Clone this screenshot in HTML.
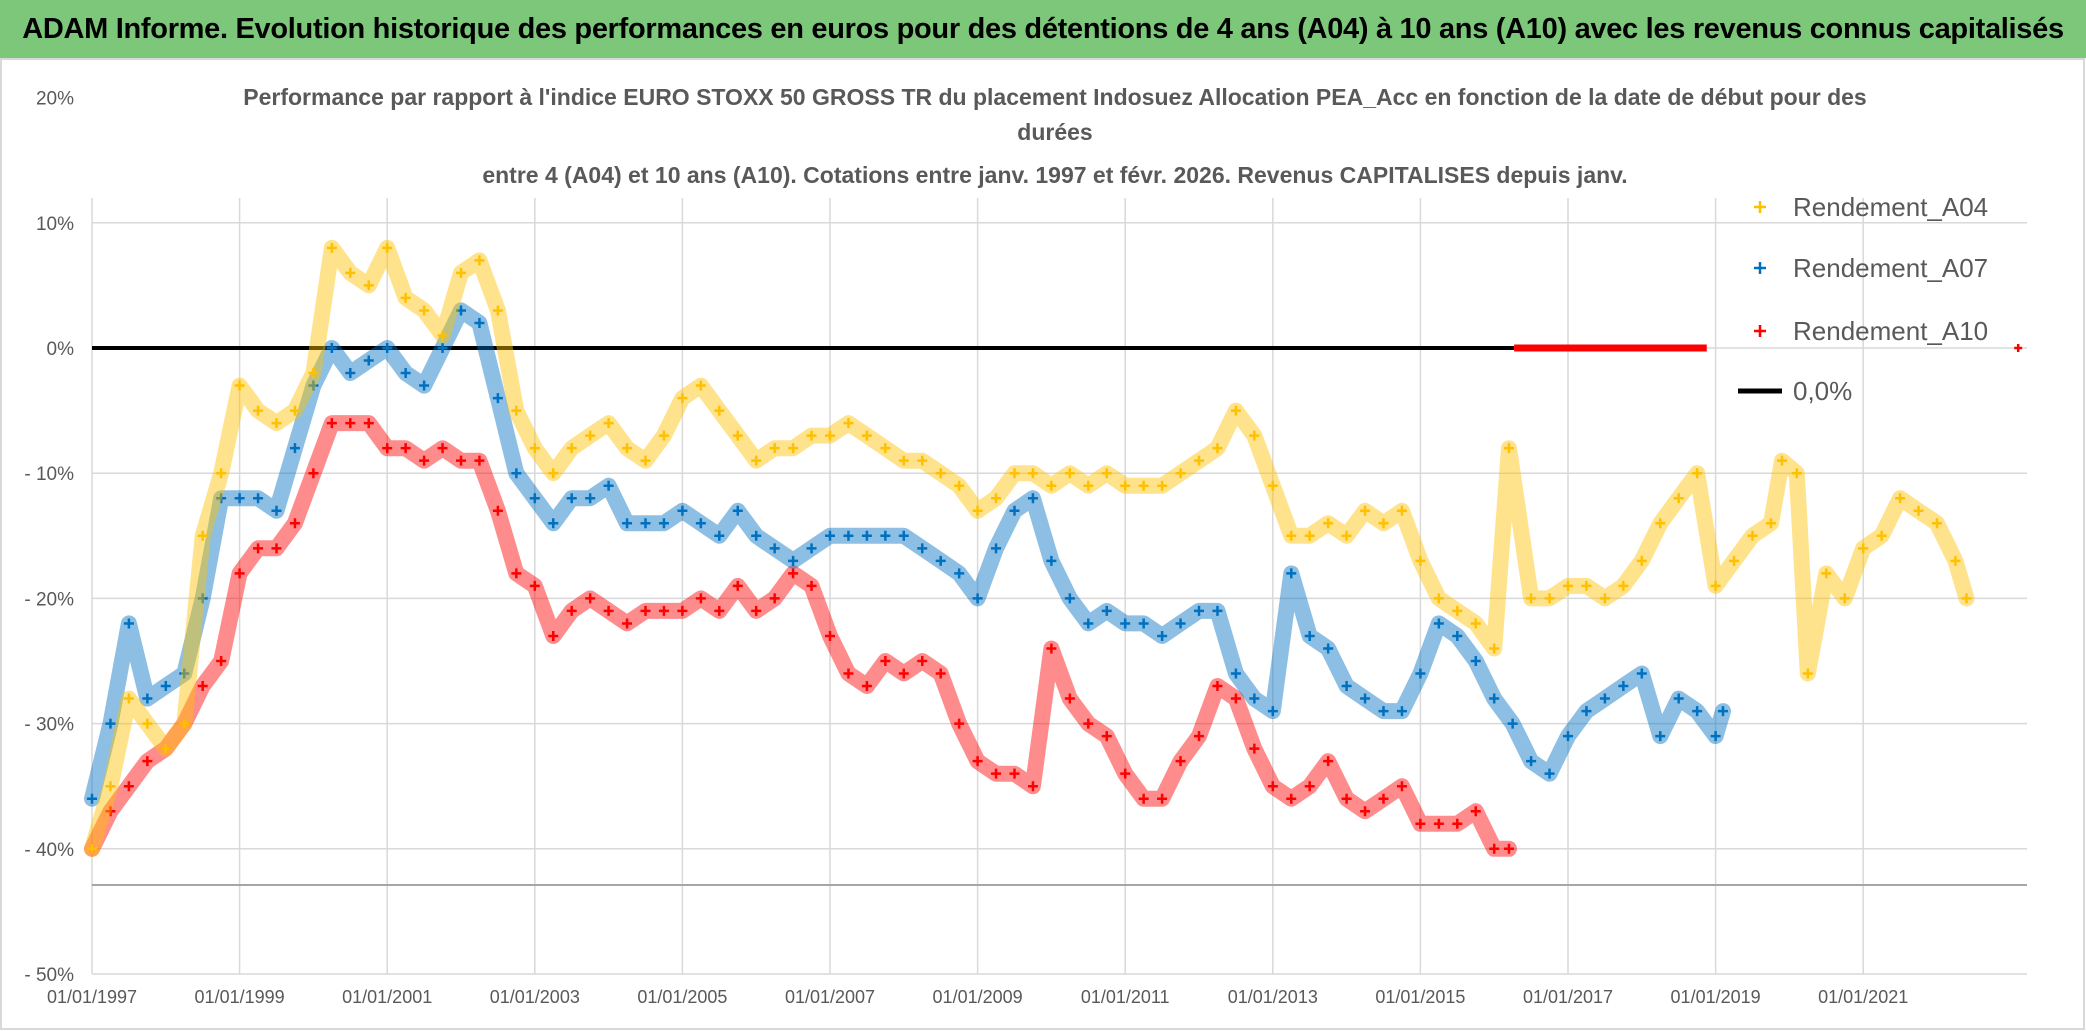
<!DOCTYPE html>
<html><head><meta charset="utf-8">
<style>
body{margin:0;background:#fff;width:2086px;height:1031px;overflow:hidden;font-family:"Liberation Sans",sans-serif}
#title{position:absolute;left:0;top:0;width:2086px;height:58px;background:#7dc77a;color:#000;font-weight:bold;font-size:29px;line-height:58px;text-align:center;letter-spacing:-0.3px}
svg{position:absolute;left:0;top:0}
</style></head><body>
<div id="title">ADAM Informe. Evolution historique des performances en euros pour des détentions de 4 ans (A04) à 10 ans (A10) avec les revenus connus capitalisés</div>
<svg id="chart" width="2086" height="1031"></svg>
<script>
const yTicks=[20,10,0,-10,-20,-30,-40,-50];
const yTickLabels=["20%","10%","0%","- 10%","- 20%","- 30%","- 40%","- 50%"];
const xTickYears=[1997,1999,2001,2003,2005,2007,2009,2011,2013,2015,2017,2019,2021];
const xTickLabels=["01/01/1997","01/01/1999","01/01/2001","01/01/2003","01/01/2005","01/01/2007","01/01/2009","01/01/2011","01/01/2013","01/01/2015","01/01/2017","01/01/2019","01/01/2021"];
const datesA04=[1997,1997.25,1997.5,1997.75,1998,1998.25,1998.5,1998.75,1999,1999.25,1999.5,1999.75,2000,2000.25,2000.5,2000.75,2001,2001.25,2001.5,2001.75,2002,2002.25,2002.5,2002.75,2003,2003.25,2003.5,2003.75,2004,2004.25,2004.5,2004.75,2005,2005.25,2005.5,2005.75,2006,2006.25,2006.5,2006.75,2007,2007.25,2007.5,2007.75,2008,2008.25,2008.5,2008.75,2009,2009.25,2009.5,2009.75,2010,2010.25,2010.5,2010.75,2011,2011.25,2011.5,2011.75,2012,2012.25,2012.5,2012.75,2013,2013.25,2013.5,2013.75,2014,2014.25,2014.5,2014.75,2015,2015.25,2015.5,2015.75,2016,2016.2,2016.5,2016.75,2017,2017.25,2017.5,2017.75,2018,2018.25,2018.5,2018.75,2019,2019.25,2019.5,2019.75,2019.9,2020.1,2020.25,2020.5,2020.75,2021,2021.25,2021.5,2021.75,2022,2022.25,2022.4];
const valuesA04=[-40,-35,-28,-30,-32,-30,-15,-10,-3,-5,-6,-5,-2,8,6,5,8,4,3,1,6,7,3,-5,-8,-10,-8,-7,-6,-8,-9,-7,-4,-3,-5,-7,-9,-8,-8,-7,-7,-6,-7,-8,-9,-9,-10,-11,-13,-12,-10,-10,-11,-10,-11,-10,-11,-11,-11,-10,-9,-8,-5,-7,-11,-15,-15,-14,-15,-13,-14,-13,-17,-20,-21,-22,-24,-8,-20,-20,-19,-19,-20,-19,-17,-14,-12,-10,-19,-17,-15,-14,-9,-10,-26,-18,-20,-16,-15,-12,-13,-14,-17,-20];
const datesA07=[1997,1997.25,1997.5,1997.75,1998,1998.25,1998.5,1998.75,1999,1999.25,1999.5,1999.75,2000,2000.25,2000.5,2000.75,2001,2001.25,2001.5,2001.75,2002,2002.25,2002.5,2002.75,2003,2003.25,2003.5,2003.75,2004,2004.25,2004.5,2004.75,2005,2005.25,2005.5,2005.75,2006,2006.25,2006.5,2006.75,2007,2007.25,2007.5,2007.75,2008,2008.25,2008.5,2008.75,2009,2009.25,2009.5,2009.75,2010,2010.25,2010.5,2010.75,2011,2011.25,2011.5,2011.75,2012,2012.25,2012.5,2012.75,2013,2013.25,2013.5,2013.75,2014,2014.25,2014.5,2014.75,2015,2015.25,2015.5,2015.75,2016,2016.25,2016.5,2016.75,2017,2017.25,2017.5,2017.75,2018,2018.25,2018.5,2018.75,2019,2019.1];
const valuesA07=[-36,-30,-22,-28,-27,-26,-20,-12,-12,-12,-13,-8,-3,0,-2,-1,0,-2,-3,0,3,2,-4,-10,-12,-14,-12,-12,-11,-14,-14,-14,-13,-14,-15,-13,-15,-16,-17,-16,-15,-15,-15,-15,-15,-16,-17,-18,-20,-16,-13,-12,-17,-20,-22,-21,-22,-22,-23,-22,-21,-21,-26,-28,-29,-18,-23,-24,-27,-28,-29,-29,-26,-22,-23,-25,-28,-30,-33,-34,-31,-29,-28,-27,-26,-31,-28,-29,-31,-29];
const datesA10=[1997,1997.25,1997.5,1997.75,1998,1998.25,1998.5,1998.75,1999,1999.25,1999.5,1999.75,2000,2000.25,2000.5,2000.75,2001,2001.25,2001.5,2001.75,2002,2002.25,2002.5,2002.75,2003,2003.25,2003.5,2003.75,2004,2004.25,2004.5,2004.75,2005,2005.25,2005.5,2005.75,2006,2006.25,2006.5,2006.75,2007,2007.25,2007.5,2007.75,2008,2008.25,2008.5,2008.75,2009,2009.25,2009.5,2009.75,2010,2010.25,2010.5,2010.75,2011,2011.25,2011.5,2011.75,2012,2012.25,2012.5,2012.75,2013,2013.25,2013.5,2013.75,2014,2014.25,2014.5,2014.75,2015,2015.25,2015.5,2015.75,2016,2016.2];
const valuesA10=[-40,-37,-35,-33,-32,-30,-27,-25,-18,-16,-16,-14,-10,-6,-6,-6,-8,-8,-9,-8,-9,-9,-13,-18,-19,-23,-21,-20,-21,-22,-21,-21,-21,-20,-21,-19,-21,-20,-18,-19,-23,-26,-27,-25,-26,-25,-26,-30,-33,-34,-34,-35,-24,-28,-30,-31,-34,-36,-36,-33,-31,-27,-28,-32,-35,-36,-35,-33,-36,-37,-36,-35,-38,-38,-38,-37,-40,-40];
const zeroA10Range=[2016.27,2018.88];
const lastA10Date=[2023.1];
const lastA10Value=[0];

const NS="http://www.w3.org/2000/svg";
const svg=document.getElementById('chart');
const X0=92, XPY=73.8, Y0=348, YPP=12.52;
const xs=t=>X0+(t-1997)*XPY;
const ys=v=>Y0-v*YPP;
function mk(tag,attrs,parent){const e=document.createElementNS(NS,tag);for(const k in attrs)e.setAttribute(k,attrs[k]);(parent||svg).appendChild(e);return e;}

// grid
yTicks.forEach((v,i)=>{
if(v!==20){const l=mk('line',{x1:X0,x2:2027,y1:ys(v),y2:ys(v),stroke:'#d9d9d9','stroke-width':1.5});

}
const t=mk('text',{x:74,y:ys(v)+7,'text-anchor':'end','font-size':19,fill:'#595959'});t.textContent=yTickLabels[i];

});
xTickYears.forEach((yr,i)=>{const l=mk('line',{x1:xs(yr),x2:xs(yr),y1:198,y2:ys(-50),stroke:'#d9d9d9','stroke-width':1.5});


const t=mk('text',{x:xs(yr),y:1003,'text-anchor':'middle','font-size':18,fill:'#595959'});t.textContent=xTickLabels[i];

});
const bl=mk('line',{x1:X0,x2:2027,y1:885,y2:885,stroke:'#a6a6a6','stroke-width':2});


const frame=mk('rect',{x:1,y:59,width:2083,height:970,fill:'none',stroke:'#d9d9d9','stroke-width':2});



// subtitle
const st=[["Performance par rapport à l'indice EURO STOXX 50 GROSS TR  du placement Indosuez Allocation PEA_Acc en fonction de la date de début pour des",105],["durées",140],["entre 4 (A04) et 10 ans (A10). Cotations entre janv. 1997 et févr. 2026. Revenus CAPITALISES depuis janv.",183]];
st.forEach((s,i)=>{const t=mk('text',{x:1055,y:s[1],'text-anchor':'middle','font-size':23,'font-weight':'bold',fill:'#595959'});t.textContent=s[0];

});

// zero line
const zl=mk('line',{x1:X0,x2:xs(zeroA10Range[0]),y1:ys(0),y2:ys(0),stroke:'#000','stroke-width':4});



function series(dates,vals,color,name){
  const g=mk('g',{});
  
  
  const d=dates.map((t,i)=>(i?'L':'M')+xs(t).toFixed(1)+','+ys(vals[i]).toFixed(1)).join('');
  mk('path',{d:d,fill:'none',stroke:color,'stroke-width':16,'stroke-opacity':0.45,'stroke-linejoin':'round','stroke-linecap':'round'},g);
  dates.forEach((t,i)=>{const x=xs(t),y=ys(vals[i]);
    const p=mk('path',{d:`M${x-5},${y}h10M${x},${y-5}v10`,stroke:color,'stroke-width':2.5},g);
    
    });
}
series(datesA10,valuesA10,'#ff0000','series-a10');
series(datesA07,valuesA07,'#0070c0','series-a07');
series(datesA04,valuesA04,'#ffc000','series-a04');
const rz=mk('line',{x1:xs(zeroA10Range[0]),x2:xs(zeroA10Range[1]),y1:ys(0),y2:ys(0),stroke:'#ff0000','stroke-width':7});


const rd=mk('path',{d:`M${xs(lastA10Date[0])-4},${ys(lastA10Value[0])}h8M${xs(lastA10Date[0])},${ys(lastA10Value[0])-4}v8`,stroke:'#ff0000','stroke-width':2.5});



// legend
const leg=[["Rendement_A04",'#ffc000',207],["Rendement_A07",'#0070c0',268],["Rendement_A10",'#ff0000',331]];
leg.forEach(l=>{const g=mk('g',{});


mk('path',{d:`M1754,${l[2]}h12M1760,${l[2]-6}v12`,stroke:l[1],'stroke-width':2.5},g);
const t=mk('text',{x:1793,y:l[2]+9,'font-size':26,fill:'#595959'},g);t.textContent=l[0];});
const g0=mk('g',{});


mk('line',{x1:1738,x2:1782,y1:391,y2:391,stroke:'#000','stroke-width':5},g0);
const t0=mk('text',{x:1793,y:400,'font-size':26,fill:'#595959'},g0);t0.textContent="0,0%";
</script>
</body></html>
